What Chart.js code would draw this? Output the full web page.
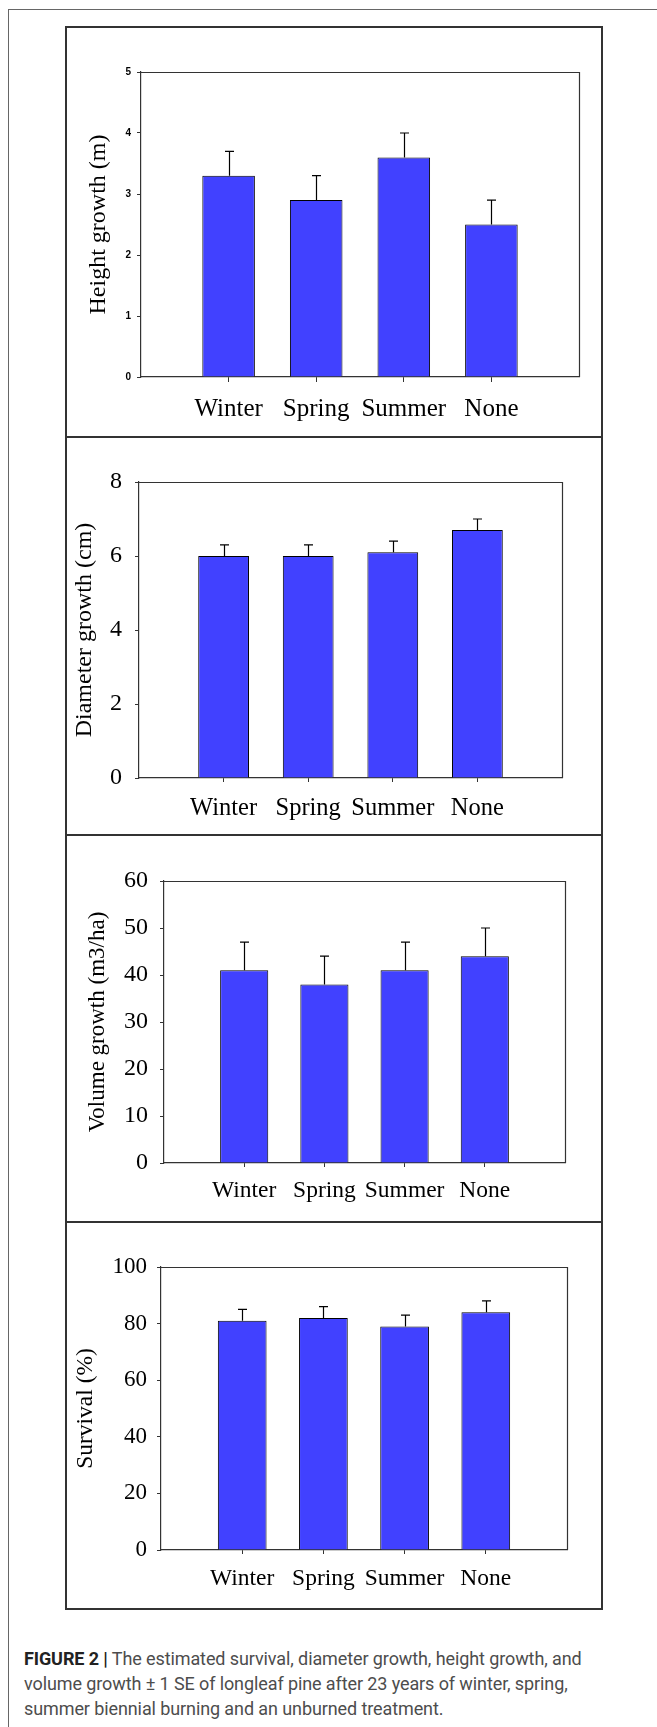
<!DOCTYPE html>
<html>
<head>
<meta charset="utf-8">
<script src="https://cdn.jsdelivr.net/npm/chart.js@4.4.1/dist/chart.umd.min.js"></script>
<style>
  body { margin: 0; background: #fff; width: 657px; height: 1727px; position: relative; overflow: hidden; }
  .frame { position: absolute; left: 8px; top: 9px; width: 700px; height: 1800px;
           border-left: 1px solid #666; border-top: 1px solid #666; }
  canvas { position: absolute; left: 66px; }
  .box { position: absolute; left: 65px; top: 26px; width: 538px; height: 1584px;
         box-sizing: border-box; border: 2px solid #333; }
  .div { position: absolute; left: 65px; width: 538px; height: 2px; background: #333; }
  .caption { position: absolute; left: 24px; top: 1646px; font-family: Roboto, 'Liberation Sans', sans-serif;
             font-size: 18px; line-height: 25px; color: #4d4d4d; white-space: nowrap; letter-spacing: -0.1px; }
  .caption b { color: #222; font-weight: 700; }
</style>
</head>
<body>
<div class="frame"></div>
<canvas id="c1" width="536" height="411" style="top:26px"></canvas>
<canvas id="c2" width="536" height="398" style="top:437px"></canvas>
<canvas id="c3" width="536" height="387" style="top:835px"></canvas>
<canvas id="c4" width="536" height="387" style="top:1222px"></canvas>
<div class="box"></div>
<div class="div" style="top:436px"></div>
<div class="div" style="top:834px"></div>
<div class="div" style="top:1221px"></div>
<div class="caption"><b>FIGURE 2 |</b> The estimated survival, diameter growth, height growth, and<br>volume growth ± 1 SE of longleaf pine after 23 years of winter, spring,<br>summer biennial burning and an unburned treatment.</div>
<script>
const seasons = ['Winter', 'Spring', 'Summer', 'None'];

const heightGrowth = [3.3, 2.9, 3.6, 2.5];
const heightSE = [0.4, 0.4, 0.4, 0.4];
const heightTicks = [0, 1, 2, 3, 4, 5];

const diameterGrowth = [6.0, 6.0, 6.1, 6.7];
const diameterSE = [0.3, 0.3, 0.3, 0.3];
const diameterTicks = [0, 2, 4, 6, 8];

const volumeGrowth = [41, 38, 41, 44];
const volumeSE = [6, 6, 6, 6];
const volumeTicks = [0, 10, 20, 30, 40, 50, 60];

const survival = [81, 82, 79, 84];
const survivalSE = [4, 4, 4, 4];
const survivalTicks = [0, 20, 40, 60, 80, 100];

const serif = "'Times New Roman', 'Liberation Serif', serif";
const PANEL_LEFT = 66, PANEL_RIGHT = 602;

// draws mean + 1 SE whiskers on top of each bar
const errorBars = {
  id: 'errorBars',
  afterDatasetsDraw(chart) {
    const ds = chart.data.datasets[0];
    const meta = chart.getDatasetMeta(0);
    const y = chart.scales.y;
    const ctx = chart.ctx;
    ctx.save();
    ctx.strokeStyle = '#000';
    ctx.lineWidth = 1.2;
    meta.data.forEach((bar, i) => {
      const v = ds.data[i];
      if (v == null) return;
      const top = y.getPixelForValue(v + ds.se[i]);
      const x = Math.round(bar.x) + 0.5;
      ctx.beginPath();
      ctx.moveTo(x, bar.y);
      ctx.lineTo(x, top);
      ctx.moveTo(x - 4.5, top);
      ctx.lineTo(x + 4.5, top);
      ctx.stroke();
    });
    ctx.restore();
  }
};

// top and right sides of the plot frame
const frame = {
  id: 'frame',
  afterDraw(chart) {
    const a = chart.chartArea;
    const ctx = chart.ctx;
    ctx.save();
    ctx.strokeStyle = '#333';
    ctx.lineWidth = 1.2;
    ctx.beginPath();
    ctx.moveTo(a.left, Math.round(a.top) + 0.5);
    ctx.lineTo(Math.round(a.right) + 0.5, Math.round(a.top) + 0.5);
    ctx.lineTo(Math.round(a.right) + 0.5, a.bottom);
    ctx.stroke();
    ctx.restore();
  }
};

function makeChart(id, p) {
  const labels = ['', ...seasons, ''];
  const data = [null, ...p.values, null];
  const last = labels.length - 1;
  new Chart(document.getElementById(id), {
    type: 'bar',
    data: {
      labels,
      datasets: [{
        data,
        se: [null, ...p.se, null],
        backgroundColor: '#4141ff',
        borderColor: '#000',
        borderWidth: 1,
        barPercentage: 0.6,
        categoryPercentage: 1
      }]
    },
    options: {
      responsive: false,
      animation: false,
      layout: { padding: { top: p.plot.t - p.top, right: PANEL_RIGHT - p.plot.r, left: 0, bottom: 0 } },
      plugins: { legend: { display: false }, tooltip: { enabled: false } },
      scales: {
        x: {
          offset: false,
          afterFit: s => { s.height = p.bottom - p.plot.b; },
          grid: {
            offset: false,
            drawOnChartArea: false,
            tickLength: p.xTick,
            color: c => (c.index === 0 || c.index === last) ? 'rgba(0,0,0,0)' : '#333'
          },
          border: { color: '#333', width: 1.2 },
          ticks: {
            autoSkip: false, maxRotation: 0, minRotation: 0,
            padding: p.xPad,
            color: '#000',
            font: { family: serif, size: p.xFont }
          }
        },
        y: {
          min: p.ticks[0],
          max: p.ticks[p.ticks.length - 1],
          afterFit: s => { s.width = p.plot.l - PANEL_LEFT; },
          afterBuildTicks: s => { s.ticks = p.ticks.map(v => ({ value: v })); },
          grid: { drawOnChartArea: false, tickLength: p.yTick, color: '#333' },
          border: { color: '#333', width: 1.2 },
          ticks: { padding: p.yPad, color: '#000', font: p.yFont },
          title: {
            display: true,
            text: p.title,
            color: '#000',
            padding: { top: p.titlePad, bottom: 0 },
            font: { family: serif, size: p.titleFont }
          }
        }
      }
    },
    plugins: [errorBars, frame]
  });
}

makeChart('c1', {
  top: 26, bottom: 437, plot: { l: 141, t: 72, r: 579, b: 377 },
  values: heightGrowth, se: heightSE, ticks: heightTicks,
  title: 'Height growth (m)', titleFont: 24, titlePad: 18,
  yFont: { family: "Arial, 'Liberation Sans', sans-serif", size: 10, weight: 'bold' },
  yTick: 4, yPad: 6, xTick: 5, xPad: 12, xFont: 25
});

makeChart('c2', {
  top: 437, bottom: 835, plot: { l: 139, t: 482, r: 562, b: 778 },
  values: diameterGrowth, se: diameterSE, ticks: diameterTicks,
  title: 'Diameter growth (cm)', titleFont: 24, titlePad: 4,
  yFont: { family: serif, size: 24 },
  yTick: 4, yPad: 13, xTick: 4, xPad: 12, xFont: 24.5
});

makeChart('c3', {
  top: 835, bottom: 1222, plot: { l: 164, t: 881, r: 565, b: 1163 },
  values: volumeGrowth, se: volumeSE, ticks: volumeTicks,
  title: 'Volume growth (m3/ha)', titleFont: 23, titlePad: 18,
  yFont: { family: serif, size: 24 },
  yTick: 4, yPad: 12, xTick: 4, xPad: 10, xFont: 23.5
});

makeChart('c4', {
  top: 1222, bottom: 1609, plot: { l: 161, t: 1267, r: 567, b: 1550 },
  values: survival, se: survivalSE, ticks: survivalTicks,
  title: 'Survival (%)', titleFont: 23.5, titlePad: 6,
  yFont: { family: serif, size: 23 },
  yTick: 4, yPad: 10, xTick: 4, xPad: 11, xFont: 23.5
});
</script>
</body>
</html>
